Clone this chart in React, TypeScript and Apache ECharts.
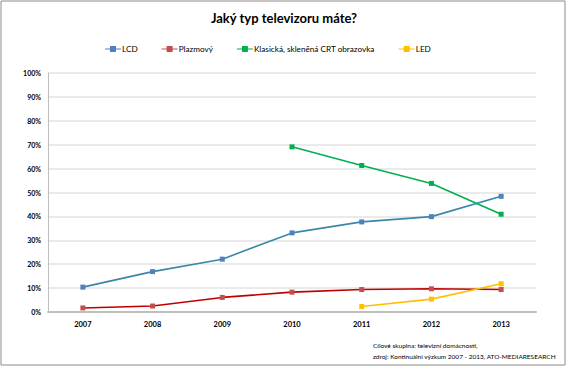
import React, { useEffect, useRef } from "react";
import * as echarts from "echarts";

const years = ["2007", "2008", "2009", "2010", "2011", "2012", "2013"];
const lcd = [10.4, 16.9, 22.1, 33.1, 37.7, 39.9, 48.4];
const plazma = [1.7, 2.5, 6.1, 8.3, 9.4, 9.7, 9.4];
const crt = [null, null, null, 69.1, 61.3, 53.8, 40.9];
const led = [null, null, null, null, 2.3, 5.4, 11.8];

const seriesNames = ["LCD", "Plazmový", "Klasická, skleněná CRT obrazovka", "LED"];
const lineColors = ["#3b87a8", "#c00000", "#00b050", "#ffc000"];
const markerColors = ["#4f81bd", "#c0504d", "#00b050", "#ffc000"];

const FONT = "Lato, 'Open Sans', sans-serif";

export default function App() {
  const ref = useRef<HTMLDivElement>(null);
  useEffect(() => {
    document.body.style.margin = "0";
    const chart = echarts.init(ref.current!, null, { renderer: "svg" });
    const data = [lcd, plazma, crt, led];
    const legendIcon =
      "path://M0,2.5L5,2.5L5,0L11,0L11,2.5L16,2.5L16,3.5L11,3.5L11,6L5,6L5,3.5L0,3.5Z";
    chart.setOption({
      animation: false,
      textStyle: { fontFamily: FONT },
      title: {
        text: "Jaký typ televizoru máte?",
        left: "center",
        top: 6,
        textStyle: { fontSize: 13, fontWeight: "bold", color: "#000", fontFamily: FONT },
      },
      legend: {
        top: 40,
        left: 100,
        itemGap: 24,
        itemWidth: 16,
        itemHeight: 6,
        textStyle: { fontSize: 8.2, color: "#000", padding: [0, 0, 0, -4], fontFamily: FONT },
        data: seriesNames.map((n, i) => ({ name: n, icon: legendIcon, itemStyle: { color: markerColors[i] } })),
      },
      grid: { left: 48, right: 32, top: 73, bottom: 56 },
      xAxis: {
        type: "category",
        data: years,
        boundaryGap: true,
        axisLine: { lineStyle: { color: "#bfbfbf", width: 2 } },
        axisTick: { show: false },
        axisLabel: { fontSize: 7.5, fontWeight: "bold", color: "#000", margin: 8 },
      },
      yAxis: {
        type: "value",
        min: 0,
        max: 100,
        interval: 10,
        axisLine: { show: true, lineStyle: { color: "#bfbfbf", width: 1 } },
        axisTick: { show: false },
        splitLine: { lineStyle: { color: "#e3e3e3", width: 1.5 } },
        axisLabel: { fontSize: 7, fontWeight: "bold", color: "#000", formatter: "{value}%", margin: 7 },
      },
      series: seriesNames.map((n, i) => ({
        name: n,
        type: "line",
        data: data[i],
        symbol: "rect",
        symbolSize: 5,
        showSymbol: true,
        lineStyle: { color: lineColors[i], width: 1.6 },
        itemStyle: { color: markerColors[i] },
        connectNulls: false,
      })),
      graphic: [
        {
          type: "rect",
          shape: { x: 1, y: 1, width: 564, height: 364 },
          style: { fill: "none", stroke: "#8c8c8c", lineWidth: 1 },
          silent: true,
        },
        {
          type: "text",
          right: 12,
          top: 340,
          style: {
            text: "Cílové skupina: televizní domácnosti,\nzdroj: Kontinuální výzkum 2007 - 2013, ATO-MEDIARESEARCH",
            fontSize: 6.5,
            fill: "#000",
            align: "right",
            lineHeight: 11,
            fontFamily: FONT,
          },
        },
      ],
    });
    return () => chart.dispose();
  }, []);
  return <div ref={ref} style={{ width: 568, height: 368, position: "absolute", left: 0, top: 0 }} />;
}
